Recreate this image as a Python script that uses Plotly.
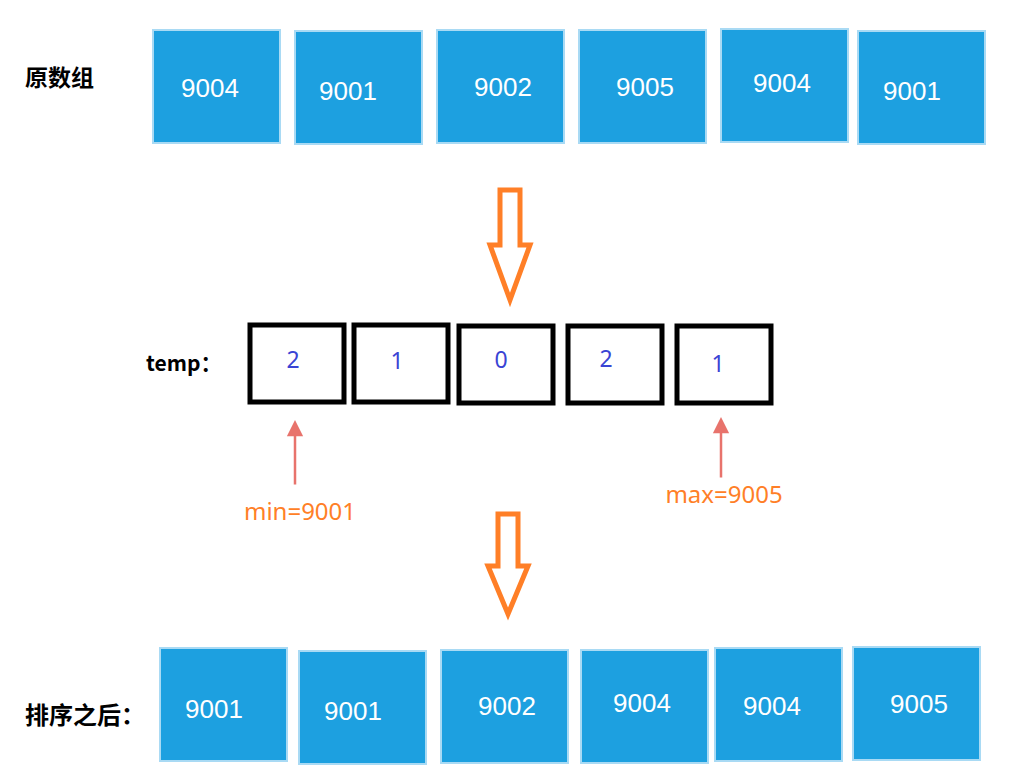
import plotly.graph_objects as go

# values shown in the diagram
original = [9004, 9001, 9002, 9005, 9004, 9001]
temp_counts = [2, 1, 0, 2, 1]
sorted_vals = [9001, 9001, 9002, 9004, 9004, 9005]
min_label = "min=9001"
max_label = "max=9005"
row_labels = ["原数组", "temp：", "排序之后："]

# layout (pixel positions on a 1026x782 canvas)
W, H = 1026, 782
PAD = 8  # page body margin, compensated in the axis ranges
top_left = [153, 295, 437, 579, 721, 858]
top_top = [30, 31, 30, 30, 29, 31]
top_txt_x = [210, 348, 503, 645, 782, 912]
top_txt_y = [90, 93, 89, 89, 85, 93]
bot_left = [160, 299, 441, 581, 715, 853]
bot_top = [648, 651, 650, 650, 648, 647]
bot_txt_x = [214, 353, 507, 642, 772, 919]
bot_txt_y = [711, 713, 708, 705, 708, 706]
box_w, box_h = 127, 113
tmp_left = [250, 354, 459, 568, 677]
tmp_top = [325, 325, 326, 326, 326]
tmp_w, tmp_h = 94, 77
tmp_txt_x = [293, 397, 501, 606, 718]
tmp_txt_y = [362, 363, 362, 361, 366]

BLUE = "#1DA0E0"
EDGE = "#A9DAF4"
ORANGE = "#FF7F27"
NUM_BLUE = "#3A44D4"
RED = "#E8736C"

fig = go.Figure()
shapes = []


def hollow_arrow(cx, y0, y_neck, y1, shaft_w, head_w):
    sw, hw = shaft_w / 2, head_w / 2
    pts = [(cx - sw, y0), (cx + sw, y0), (cx + sw, y_neck), (cx + hw, y_neck),
           (cx, y1), (cx - hw, y_neck), (cx - sw, y_neck)]
    path = "M " + " L ".join(f"{x},{y}" for x, y in pts) + " Z"
    return dict(type="path", path=path, xref="x", yref="y", layer="below",
                line=dict(color=ORANGE, width=5), fillcolor="rgba(0,0,0,0)")


for i, v in enumerate(original):
    shapes.append(dict(type="rect", x0=top_left[i], x1=top_left[i] + box_w,
                       y0=top_top[i], y1=top_top[i] + box_h, layer="below",
                       fillcolor=BLUE, line=dict(color=EDGE, width=2)))
for i, v in enumerate(sorted_vals):
    shapes.append(dict(type="rect", x0=bot_left[i], x1=bot_left[i] + box_w,
                       y0=bot_top[i], y1=bot_top[i] + box_h, layer="below",
                       fillcolor=BLUE, line=dict(color=EDGE, width=2)))
for i, c in enumerate(temp_counts):
    shapes.append(dict(type="rect", x0=tmp_left[i], x1=tmp_left[i] + tmp_w,
                       y0=tmp_top[i], y1=tmp_top[i] + tmp_h, layer="below",
                       fillcolor="white", line=dict(color="black", width=5)))

shapes.append(hollow_arrow(510, 190, 245, 300, 20, 40))
shapes.append(hollow_arrow(508, 514, 566, 614, 20, 40))

num_font = dict(family="Liberation Sans Narrow, Liberation Sans, Arial",
                size=26, color="white")
fig.add_trace(go.Scatter(x=top_txt_x, y=top_txt_y, mode="text",
                         text=[str(v) for v in original], textfont=num_font))
fig.add_trace(go.Scatter(x=bot_txt_x, y=bot_txt_y, mode="text",
                         text=[str(v) for v in sorted_vals], textfont=num_font))
fig.add_trace(go.Scatter(x=tmp_txt_x, y=tmp_txt_y, mode="text",
                         text=[str(c) for c in temp_counts],
                         textfont=dict(family="Noto Sans", size=23, color=NUM_BLUE)))

# row labels
fig.add_trace(go.Scatter(x=[25, 146, 25], y=[80, 366, 718], mode="text",
                         text=[f"<b>{t}</b>" for t in row_labels],
                         textposition="middle right",
                         textfont=dict(family="Noto Sans CJK SC", size=[23, 21, 24],
                                       color="black")))

# pointer arrows to min / max
for x, ytail, yhead in [(295, 486, 420), (721, 479, 417)]:
    fig.add_annotation(x=x, y=yhead, ax=x, ay=ytail, xref="x", yref="y",
                       axref="x", ayref="y", text="", showarrow=True,
                       arrowhead=2, arrowsize=1.3, arrowwidth=2.5, arrowcolor=RED)

fig.add_trace(go.Scatter(x=[300, 724], y=[514, 497], mode="text",
                         text=[min_label, max_label],
                         textfont=dict(family="Noto Sans", size=24, color=ORANGE)))

fig.update_layout(
    width=W, height=H, margin=dict(l=0, r=0, t=0, b=0),
    paper_bgcolor="white", plot_bgcolor="white", showlegend=False,
    shapes=shapes,
    xaxis=dict(range=[PAD, W + PAD], visible=False, fixedrange=True),
    yaxis=dict(range=[H + PAD, PAD], visible=False, fixedrange=True),
)

fig.write_html("out.html")
